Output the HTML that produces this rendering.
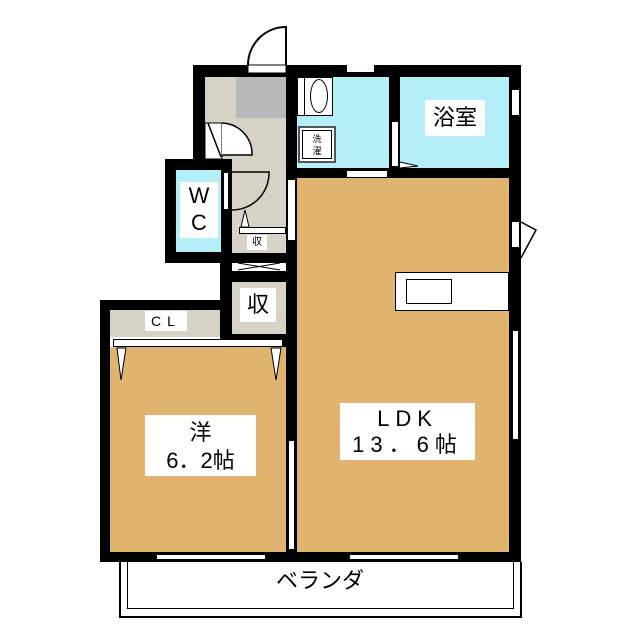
<!DOCTYPE html>
<html><head><meta charset="utf-8"><style>
body{margin:0;width:640px;height:640px;background:#fff;position:relative;overflow:hidden;font-family:"Liberation Sans","Noto Sans CJK JP",sans-serif}
div{position:absolute;box-sizing:border-box}
.k{background:#000}.g{background:#d6d3c6}.b{background:#b3eef9}.t{background:#e0b46e}.w{background:#fff}
.lbl{background:#fff;text-align:center;color:#000}
</style></head><body>
<!-- outer walls -->
<div class="k" style="left:193px;top:65px;width:328px;height:12px"></div>
<div class="k" style="left:193px;top:65px;width:12px;height:100px"></div>
<div class="k" style="left:509px;top:65px;width:12px;height:497px"></div>
<div class="k" style="left:100px;top:300px;width:132px;height:10px"></div>
<div class="k" style="left:100px;top:300px;width:10px;height:262px"></div>
<div class="k" style="left:100px;top:552px;width:421px;height:10px"></div>
<!-- WC -->
<div class="k" style="left:165px;top:159px;width:67px;height:104px"></div>
<div class="b" style="left:176px;top:170px;width:45px;height:82px"></div>
<div class="lbl" style="left:180px;top:182px;width:38px;height:56px;font-size:22px;line-height:27px">W<br>C</div>
<div class="w" style="left:223px;top:172px;width:6px;height:38px;border:1px solid #000"></div>
<!-- entry -->
<div class="g" style="left:205px;top:77px;width:81px;height:82px"></div>
<div class="g" style="left:232px;top:159px;width:54px;height:94px"></div>
<div style="left:236px;top:77px;width:50px;height:41px;background:#b8b8b8"></div>
<div class="k" style="left:232px;top:253px;width:65px;height:10px"></div>
<div class="w" style="left:232px;top:263px;width:54px;height:8px"></div>
<div class="k" style="left:232px;top:271px;width:65px;height:11px"></div>
<div class="k" style="left:220px;top:263px;width:12px;height:84px"></div>
<div class="g" style="left:232px;top:282px;width:54px;height:52px"></div>
<div class="lbl" style="left:240px;top:288px;width:36px;height:34px;font-size:22px;line-height:34px">収</div>
<div class="w" style="left:239px;top:227px;width:47px;height:7px;border:1px solid #000"></div>
<div class="lbl" style="left:247px;top:235px;width:20px;height:15px;font-size:10px;line-height:15px">収</div>
<div class="k" style="left:220px;top:334px;width:77px;height:13px"></div>
<!-- CL -->
<div class="g" style="left:110px;top:310px;width:110px;height:27px"></div>
<div class="lbl" style="left:145px;top:311px;width:42px;height:20px;font-size:14px;line-height:20px;letter-spacing:6px">CL</div>
<div class="w" style="left:113px;top:339px;width:170px;height:8px;border:1px solid #000"></div>
<!-- walls center -->
<div class="k" style="left:286px;top:65px;width:11px;height:497px"></div>
<div class="k" style="left:389px;top:65px;width:11px;height:110px"></div>
<div class="k" style="left:297px;top:168px;width:224px;height:10px"></div>
<!-- wash & bath -->
<div class="b" style="left:297px;top:77px;width:92px;height:91px"></div>
<div class="b" style="left:400px;top:77px;width:109px;height:91px"></div>
<div class="w" style="left:297px;top:77px;width:36px;height:39px;border:1px solid #000"></div>
<div class="w" style="left:297px;top:77px;width:8px;height:39px;border:1px solid #000"></div>
<div style="left:310px;top:79px;width:18px;height:34px;border:1.5px solid #000;border-radius:50%"></div>
<div class="w" style="left:298px;top:126px;width:38px;height:37px;border:2px solid #555"></div>
<div class="w" style="left:302px;top:130px;width:30px;height:29px;border:1px solid #000;font-size:9px;line-height:12px;text-align:center;padding-top:2px">洗<br>濯</div>
<div class="lbl" style="left:425px;top:100px;width:60px;height:36px;font-size:22px;line-height:36px">浴室</div>
<div class="w" style="left:347px;top:65px;width:27px;height:7px"></div>
<div class="w" style="left:347px;top:171px;width:40px;height:6px"></div>
<div class="w" style="left:512px;top:90px;width:7px;height:25px"></div>
<div class="w" style="left:392px;top:122px;width:6px;height:44px"></div>
<!-- bedroom & LDK -->
<div class="t" style="left:110px;top:347px;width:176px;height:205px"></div>
<div class="t" style="left:297px;top:178px;width:212px;height:374px"></div>
<div class="w" style="left:395px;top:272px;width:114px;height:39px;border:1px solid #000"></div>
<div class="w" style="left:406px;top:279px;width:46px;height:25px;border:1px solid #000"></div>
<div class="w" style="left:288px;top:180px;width:7px;height:60px"></div>
<div class="w" style="left:288px;top:440px;width:7px;height:110px;border:1px solid #000"></div>
<div class="w" style="left:512px;top:330px;width:7px;height:110px;border:1px solid #000"></div>
<div class="w" style="left:512px;top:222px;width:7px;height:25px"></div>
<div class="w" style="left:156px;top:554px;width:110px;height:6px;border:1px solid #000"></div>
<div class="w" style="left:349px;top:554px;width:110px;height:6px;border:1px solid #000"></div>
<div class="lbl" style="left:145px;top:415px;width:111px;height:61px;font-size:22px;line-height:28px;padding-top:4px">洋<br>6．2帖</div>
<div class="lbl" style="left:340px;top:403px;width:135px;height:57px;font-size:22px;line-height:26px;padding-top:3px;letter-spacing:6px">LDK<br>13．6帖</div>
<!-- veranda -->
<div style="left:119px;top:562px;width:403px;height:56px;border:2px solid #000;border-top:none"></div>
<div style="left:127px;top:562px;width:387px;height:47px;border:1px solid #000;border-top:none"></div>
<div style="left:250px;top:566px;width:140px;font-size:22px;line-height:30px;text-align:center">ベランダ</div>
<svg width="640" height="640" style="position:absolute;left:0;top:0">
<rect x="248" y="65" width="38" height="8" fill="#fff" stroke="#000"/>
<path d="M248 65 A38 38 0 0 1 286 27 L286 65" fill="none" stroke="#000" stroke-width="2"/>
<rect x="205" y="123" width="17" height="36" fill="#fff" stroke="#000"/>
<path d="M208 123 L221 157 M222 123 A31 31 0 0 1 252 155 L222 155" fill="#fff" stroke="#000" stroke-width="1.5"/>
<path d="M232 210 A37 37 0 0 0 269 172 L232 172" fill="none" stroke="#000" stroke-width="1.5"/>
<path d="M241 227 L245 210 L249 227 Z M238 263 L280 270 M238 270 L280 263" fill="#fff" stroke="#000"/>
<path d="M117 348 L121 380 L126 348 Z M271 348 L276 380 L281 348 Z" fill="#fff" stroke="#000"/>
<path d="M400 168 L418 166 L400 162" fill="#fff" stroke="#000"/>
<path d="M521 222 L536 230 L521 258" fill="none" stroke="#000" stroke-width="1.5"/>
</svg>
</body></html>
